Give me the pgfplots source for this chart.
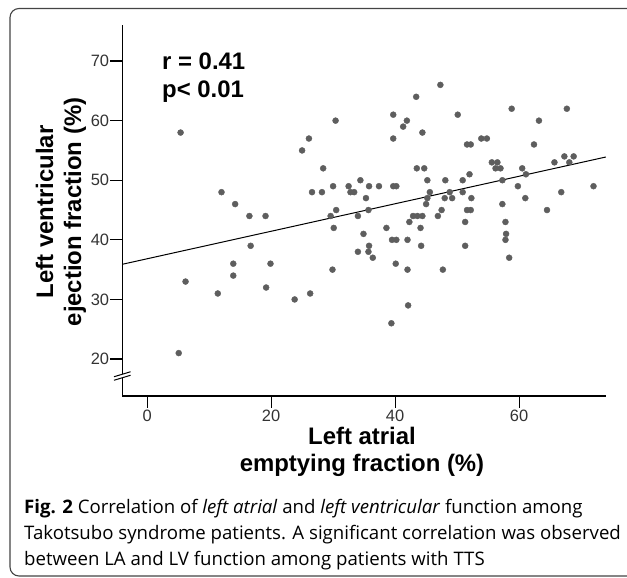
\documentclass[border=0pt]{standalone}
\usepackage{fontspec}
\setmainfont{Liberation Sans}
\newfontfamily\capfont{Open Sans}
\usepackage{pgfplots}
\pgfplotsset{compat=1.18}
\definecolor{dotgray}{HTML}{5E5E5E}
\definecolor{ticktext}{HTML}{333333}
\definecolor{framegray}{HTML}{444444}

\begin{document}
\begin{tikzpicture}
\useasboundingbox (0bp,0bp) rectangle (627bp,578bp);
\begin{scope}
  \clip (0bp,0bp) rectangle (627bp,578bp);
  \draw[line width=1.1bp, framegray, rounded corners=9bp] (10bp,569.5bp) rectangle (660bp,2bp);
\end{scope}

\begin{axis}[
    at={(122.3bp,182bp)}, anchor=south west,
    x=6.2bp, y=5.96bp,
    xmin=-4, xmax=74, ymin=13.8, ymax=76,
    axis x line*=bottom, axis y line*=left,
    axis line style={-},
    x axis line style={line width=1.3bp},
    y axis line style={draw=none},
    xtick={0,20,40,60}, ytick={20,30,...,70},
    tick align=outside, major tick length=12bp,
    tick style={line width=1.1bp, black},
    ticklabel style={font=\fontsize{16.5}{16.5}\selectfont, text=ticktext},
    /pgf/number format/assume math mode=true,
    yticklabel style={inner sep=1bp},
    xticklabel style={inner sep=2bp},
    clip=false,
]
% y axis with a break
\draw[line width=1.3bp] (axis cs:-4,76) -- (axis cs:-4,17.45);
\draw[line width=1.3bp] (axis cs:-4,16.86) -- (axis cs:-4,13.8);
\draw[line width=1bp] ([shift={(-8.3bp,-2.5bp)}]axis cs:-4,17.45) -- ([shift={(8.3bp,2.5bp)}]axis cs:-4,17.45);
\draw[line width=1bp] ([shift={(-8.3bp,-2.5bp)}]axis cs:-4,16.86) -- ([shift={(8.3bp,2.5bp)}]axis cs:-4,16.86);

\addplot[black, line width=1bp] coordinates {(-4,35.9) (74,53.9)};

\addplot[only marks, mark=*, mark size=3bp, dotgray] coordinates {
(5.1,21) (5.4,58) (6.2,33) (11.4,31) (12.0,48) (13.9,36) (13.9,34) (14.2,46)
(16.5,44) (16.7,39) (19.1,44) (19.2,32) (19.9,36) (23.8,30) (25.0,55) (26.1,57)
(26.3,31) (26.6,48) (28.2,48) (28.4,52) (29.6,44) (29.9,35) (30.0,49) (30.1,42)
(30.4,60) (30.5,45) (32.5,49) (32.8,48) (33.4,48) (34.0,44) (34.0,38) (34.4,50)
(34.9,41) (35.3,47) (35.7,45) (35.7,38) (35.8,39) (35.8,49) (36.4,37) (37.4,49)
(38.6,42) (39.4,26) (39.5,40) (39.7,61) (39.7,57) (39.7,49) (40.1,36) (40.2,49)
(40.2,40) (41.3,59) (41.9,60) (42.0,40) (42.0,35) (42.1,29) (42.3,43) (42.9,44)
(43.4,64) (43.5,52) (43.6,44) (44.1,42) (44.2,39) (44.4,58) (44.4,44) (44.7,52)
(45.0,46) (45.2,50) (45.2,47) (45.6,48) (46.9,44) (47.3,66) (47.5,45) (47.7,35)
(48.0,47) (48.1,50) (48.8,48) (49.2,47) (50.1,61) (50.9,50) (50.9,48) (51.3,43)
(51.3,39) (51.6,56) (51.6,45) (52.0,51) (52.2,56) (52.2,45) (52.3,47) (53.9,57)
(54.8,57) (55.6,53) (56.2,52) (56.5,53) (57.0,52) (57.3,50) (57.3,46) (57.8,43)
(57.9,41) (57.8,40) (58.4,37) (58.8,62) (59.8,49) (60.5,52) (61.0,47) (61.1,51)
(62.4,56) (63.2,60) (64.5,45) (65.7,53) (66.8,48) (67.3,54) (67.7,62) (68.1,53)
(68.8,54) (72.0,49)
};
\end{axis}

% statistics
\node[anchor=base west, inner sep=0pt, font=\fontsize{24}{24}\selectfont\bfseries] at (162bp,508.5bp) {r = 0.41};
\node[anchor=base west, inner sep=0pt, font=\fontsize{24}{24}\selectfont\bfseries] at (162bp,480.5bp) {p< 0.01};

% axis titles
\node[rotate=90, anchor=base, inner sep=0pt, font=\fontsize{24}{24}\selectfont\bfseries] at (53bp,366bp) {Left ventricular};
\node[rotate=90, anchor=base, inner sep=0pt, font=\fontsize{24}{24}\selectfont\bfseries] at (81bp,366bp) {ejection fraction (\%)};
\node[anchor=base, inner sep=0pt, font=\fontsize{24}{24}\selectfont\bfseries] at (362bp,133bp) {Left atrial};
\node[anchor=base, inner sep=0pt, font=\fontsize{24}{24}\selectfont\bfseries] at (362bp,106bp) {emptying fraction (\%)};

% caption
\node[anchor=base west, inner sep=0pt, font=\capfont\fontsize{18.7}{18.7}\selectfont] at (24bp,64bp)
  {\textbf{Fig. 2} Correlation of \textit{left atrial} and \textit{left ventricular} function among};
\node[anchor=base west, inner sep=0pt, font=\capfont\fontsize{18.7}{18.7}\selectfont] at (24bp,38.5bp)
  {Takotsubo syndrome patients. A significant correlation was observed};
\node[anchor=base west, inner sep=0pt, font=\capfont\fontsize{18.7}{18.7}\selectfont] at (24bp,13bp)
  {between LA and LV function among patients with TTS};
\end{tikzpicture}
\end{document}
